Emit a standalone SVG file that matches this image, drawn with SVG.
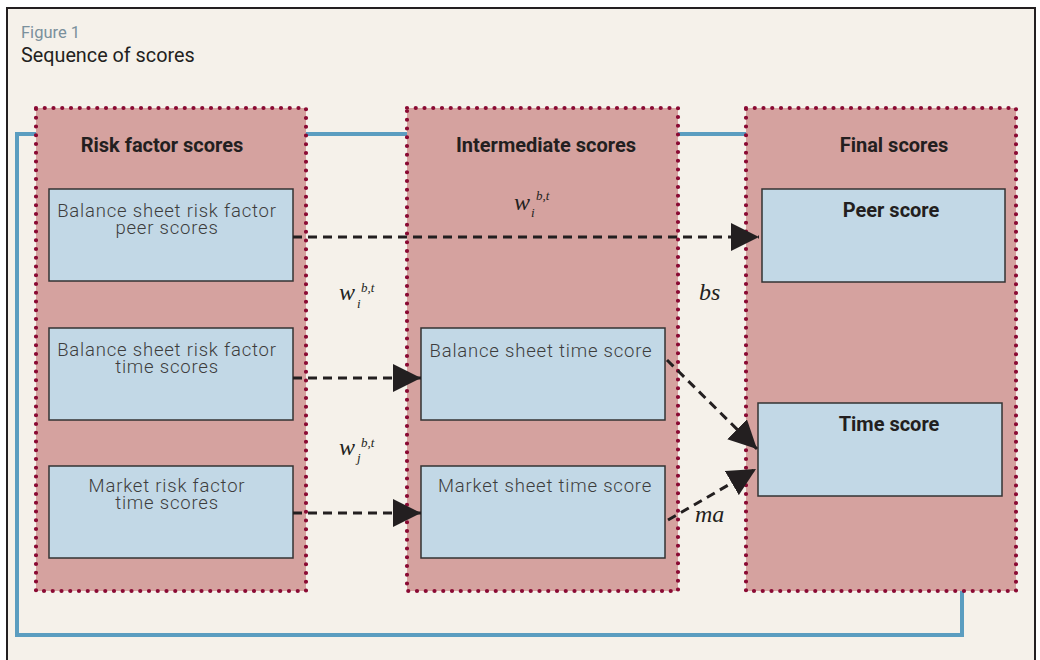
<svg xmlns="http://www.w3.org/2000/svg" width="1040" height="660" viewBox="0 0 1040 660">
<defs>
<style>
.grp{fill:#d5a29f;stroke:#8a0a33;stroke-width:4.2;stroke-linecap:round;stroke-dasharray:0 8.75}
.box{fill:#c2d8e6;stroke:#333;stroke-width:1.5}
.hdr{font-family:Roboto,"Liberation Sans",sans-serif;font-weight:bold;font-size:20px;fill:#231f20;text-anchor:middle}
.txt{font-family:Roboto,"Liberation Sans",sans-serif;font-weight:300;font-size:18.5px;letter-spacing:0.8px;fill:#3d3d3d;text-anchor:middle}
.bld{font-family:Roboto,"Liberation Sans",sans-serif;font-weight:bold;font-size:20px;fill:#231f20;text-anchor:middle}
.con{fill:none;stroke:#231f20;stroke-width:3;stroke-dasharray:9 6}
.blue{fill:none;stroke:#5b9dc0;stroke-width:4}
.m{font-family:"Liberation Serif",serif;font-style:italic;fill:#231f20}
.w{font-size:24px}
.s{font-size:13px}
.lab{font-size:24px}
</style>
<marker id="ah" markerWidth="28" markerHeight="28" refX="28" refY="14" orient="auto" markerUnits="userSpaceOnUse" viewBox="0 0 28 28">
<path d="M0,0 L28,14 L0,28 Z" fill="#231f20"/>
</marker>
</defs>
<rect x="0" y="0" width="1040" height="660" fill="#ffffff"/>
<rect x="7" y="8" width="1028" height="662" fill="#f5f1ea" stroke="#231f20" stroke-width="2"/>
<text x="21" y="38" font-family="Roboto,'Liberation Sans',sans-serif" font-size="16.5" fill="#7a909c">Figure 1</text>
<text x="21" y="62" font-family="Roboto,'Liberation Sans',sans-serif" font-size="19.8" fill="#231f20">Sequence of scores</text>

<g id="feedback">
<path class="blue" d="M36,134 H17 V635 H962 V591"/>
<path class="blue" d="M306,134 H407"/>
<path class="blue" d="M678,134 H746"/>
</g>

<g id="risk-factor-scores">
<rect class="grp" x="36" y="108" width="270" height="483"/>
<text class="hdr" x="162" y="152">Risk factor scores</text>
</g>
<g id="intermediate-scores">
<rect class="grp" x="407" y="108" width="271" height="483"/>
<text class="hdr" x="546" y="152">Intermediate scores</text>
</g>
<g id="final-scores">
<rect class="grp" x="746" y="108" width="270" height="483"/>
<text class="hdr" x="894" y="152">Final scores</text>
</g>

<g id="bs-peer">
<rect class="box" x="49" y="189" width="244" height="92"/>
<text class="txt" x="167" y="217">Balance sheet risk factor</text>
<text class="txt" x="167" y="234">peer scores</text>
</g>
<g id="bs-time">
<rect class="box" x="49" y="328" width="244" height="92"/>
<text class="txt" x="167" y="356">Balance sheet risk factor</text>
<text class="txt" x="167" y="373">time scores</text>
</g>
<g id="mkt-time">
<rect class="box" x="49" y="466" width="244" height="92"/>
<text class="txt" x="167" y="492">Market risk factor</text>
<text class="txt" x="167" y="509">time scores</text>
</g>
<g id="bs-time-score">
<rect class="box" x="421" y="328" width="244" height="92"/>
<text class="txt" x="541" y="357">Balance sheet time score</text>
</g>
<g id="mkt-time-score">
<rect class="box" x="421" y="466" width="244" height="92"/>
<text class="txt" x="545" y="492">Market sheet time score</text>
</g>
<g id="peer-score">
<rect class="box" x="762" y="189" width="243" height="93"/>
<text class="bld" x="891" y="217">Peer score</text>
</g>
<g id="time-score">
<rect class="box" x="758" y="403" width="244" height="93"/>
<text class="bld" x="889" y="431">Time score</text>
</g>

<g id="connectors">
<path class="con" d="M293,237 L759,237" marker-end="url(#ah)"/>
<path class="con" d="M293,378 L421,378" marker-end="url(#ah)"/>
<path class="con" d="M293,513 L421,513" marker-end="url(#ah)"/>
<path class="con" d="M667,360 L757,449" marker-end="url(#ah)"/>
<path class="con" d="M668,520 L756,469" marker-end="url(#ah)"/>
</g>

<g id="labels">
<text class="m w" x="514" y="210">w</text>
<text class="m s" x="536" y="200">b,t</text>
<text class="m s" x="531" y="217">i</text>
<text class="m w" x="339" y="300">w</text>
<text class="m s" x="361" y="292">b,t</text>
<text class="m s" x="357" y="308">i</text>
<text class="m w" x="339" y="455">w</text>
<text class="m s" x="361" y="447">b,t</text>
<text class="m s" x="357" y="462">j</text>
<text class="m lab" x="699" y="300">bs</text>
<text class="m lab" x="695" y="522">ma</text>
</g>
</svg>
